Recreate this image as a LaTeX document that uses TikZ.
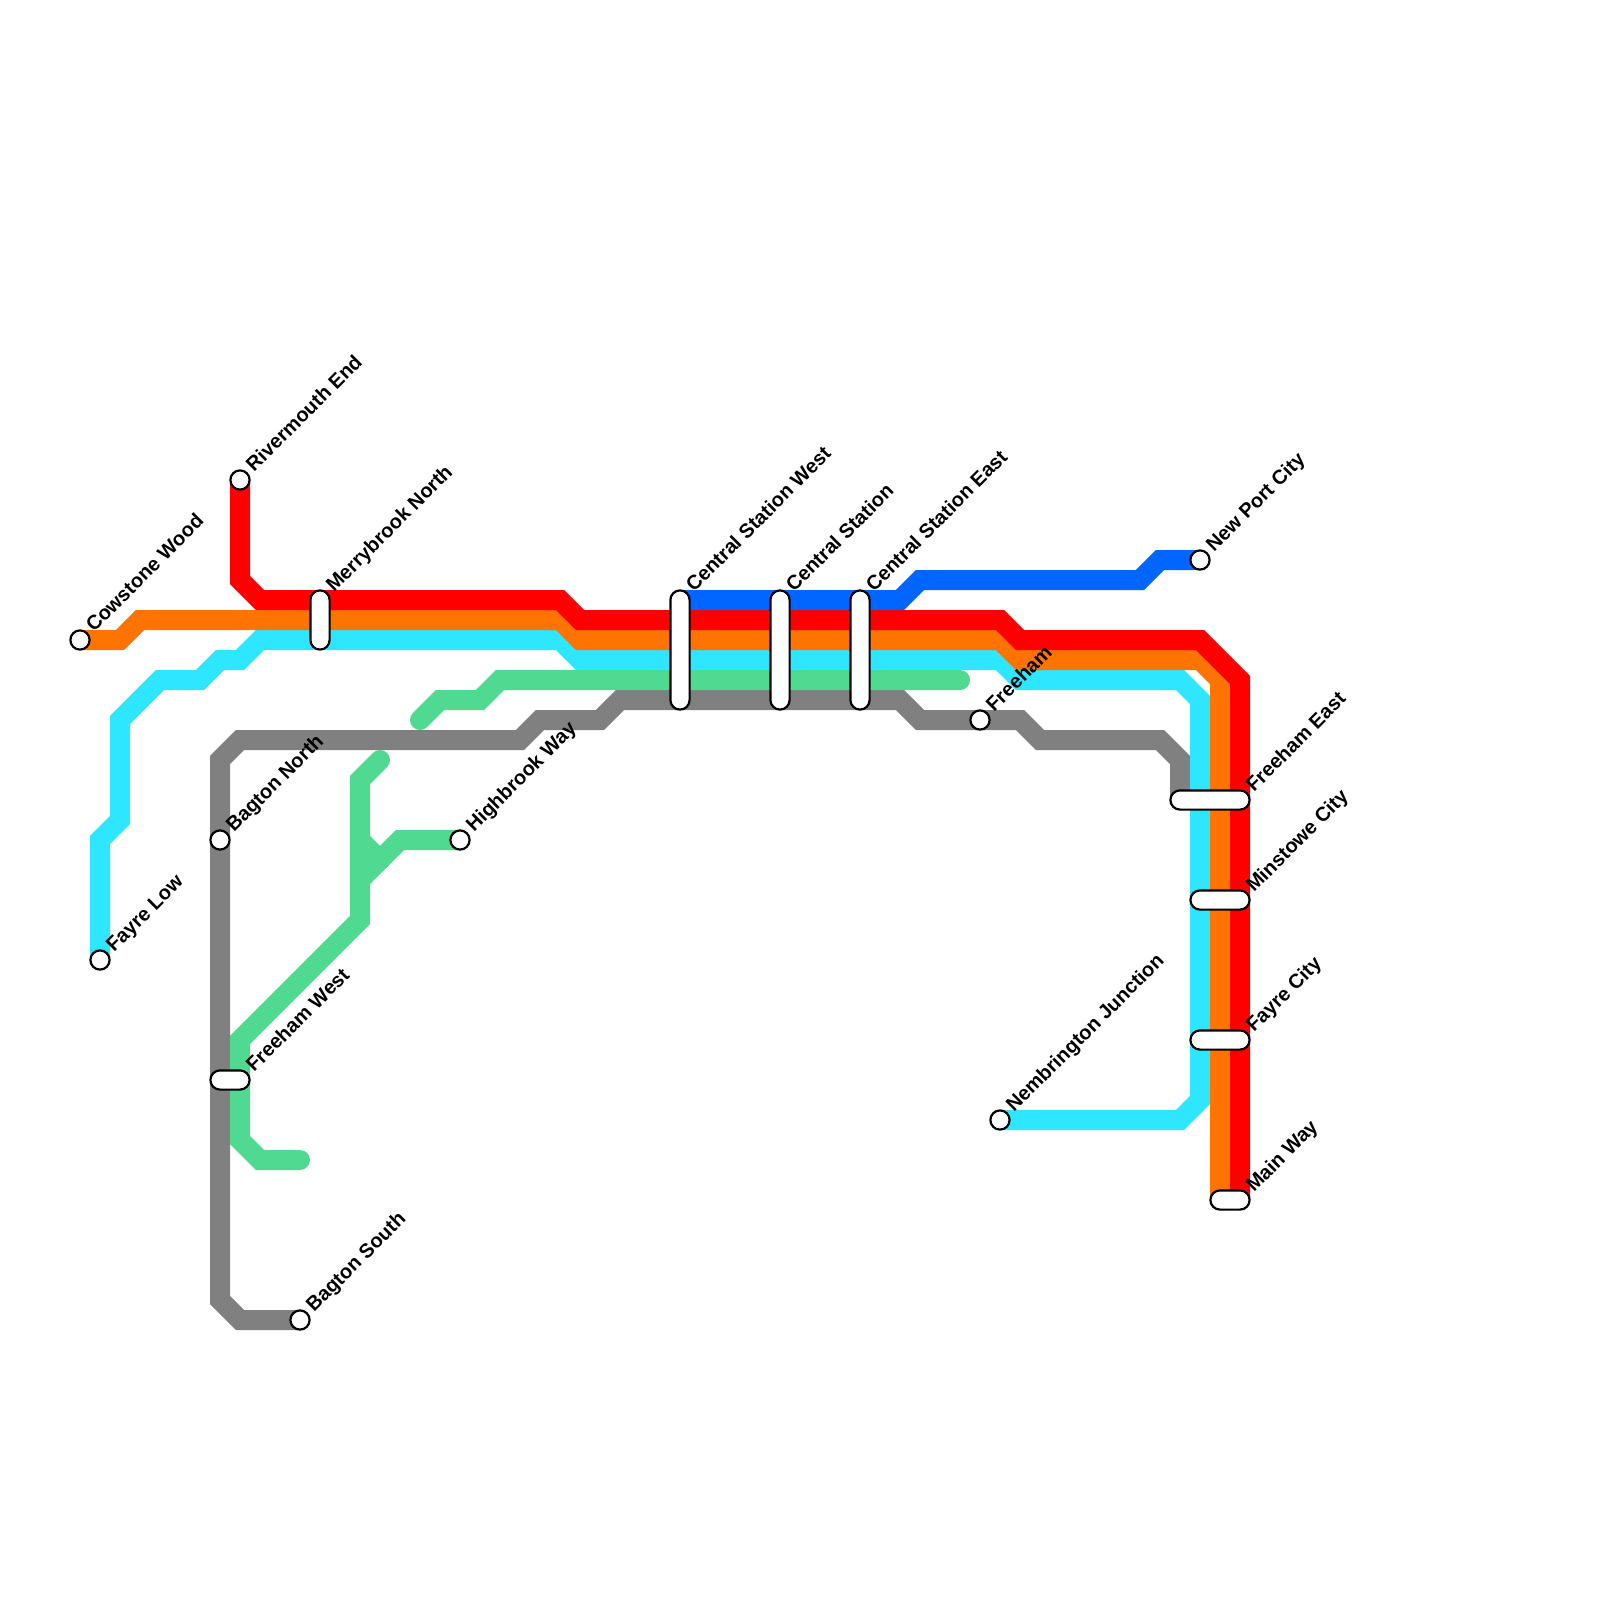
\documentclass[tikz,border=0pt]{standalone}
\usepackage{fontspec}
\setmainfont{Liberation Sans}
\usetikzlibrary{backgrounds}
\definecolor{lred}{HTML}{FF0000}
\definecolor{lorange}{HTML}{FF7300}
\definecolor{lcyan}{HTML}{2EE6FF}
\definecolor{lgreen}{HTML}{50D990}
\definecolor{lgray}{HTML}{808080}
\definecolor{lblue}{HTML}{0066FF}
\tikzset{
  metro/.style={line width=20pt,line join=miter,line cap=round},
  stopdot/.style={circle,draw=black,fill=white,line width=2.2pt,minimum size=19.2pt,inner sep=0pt},
  stopcap/.style={rectangle,rounded corners=9.6pt,draw=black,fill=white,line width=2.2pt,inner sep=0pt},
  vcap/.style={stopcap,minimum width=19.2pt,minimum height=#1},
  hcap/.style={stopcap,minimum height=19.2pt,minimum width=#1},
  stoplabel/.style={anchor=base west,rotate=45,inner sep=0pt,font=\fontsize{20}{20}\selectfont\bfseries}
}
\begin{document}
\begin{tikzpicture}[x=1pt,y=-1pt]
\useasboundingbox (0,0) rectangle (1600,1600);
% stations
\node[stopdot] (cowstone) at (80,640) {};
\node[stopdot] (rivermouth) at (240,480) {};
\node[stopdot] (fayrelow) at (100,960) {};
\node[stopdot] (bagtonN) at (220,840) {};
\node[stopdot] (highbrook) at (460,840) {};
\node[stopdot] (bagtonS) at (300,1320) {};
\node[stopdot] (freeham) at (980,720) {};
\node[stopdot] (newport) at (1200,560) {};
\node[stopdot] (nembrington) at (1000,1120) {};
\node[vcap=59.2pt] (merrybrook) at (320,620) {};
\node[vcap=119.2pt] (centralW) at (680,650) {};
\node[vcap=119.2pt] (central) at (780,650) {};
\node[vcap=119.2pt] (centralE) at (860,650) {};
\node[hcap=39.2pt] (freehamW) at (230,1080) {};
\node[hcap=79.2pt] (freehamE) at (1210,800) {};
\node[hcap=59.2pt] (minstowe) at (1220,900) {};
\node[hcap=59.2pt] (fayrecity) at (1220,1040) {};
\node[hcap=39.2pt] (mainway) at (1230,1200) {};
% free line ends
\coordinate (blueStart) at (680,600);
\coordinate (redEnd) at (1240,1200);
\coordinate (orangeEnd) at (1220,1200);
\coordinate (grayEnd) at (1180,800);
\coordinate (greenTop) at (380,760);
\coordinate (greenMid) at (360,840);
\coordinate (greenFork) at (360,880);
\coordinate (greenStub) at (380,860);
\coordinate (greenTail) at (300,1160);
\coordinate (greenHead) at (420,720);
\coordinate (greenEnd) at (960,680);
\begin{scope}[on background layer]
\draw[metro,lgray] (bagtonS.center) -- (240,1320) -- (220,1300) -- (220,760) -- (240,740) -- (520,740) -- (540,720) -- (600,720) -- (620,700) -- (900,700) -- (920,720) -- (1020,720) -- (1040,740) -- (1160,740) -- (1180,760) -- (grayEnd);
\draw[metro,lgreen] (greenHead) -- (440,700) -- (480,700) -- (500,680) -- (greenEnd);
\draw[metro,lgreen] (greenTop) -- (360,780) -- (360,920) -- (240,1040) -- (240,1140) -- (260,1160) -- (greenTail);
\draw[metro,lgreen] (highbrook.center) -- (400,840) -- (greenFork);
\draw[metro,lgreen] (greenMid) -- (greenStub);
\draw[metro,lcyan] (fayrelow.center) -- (100,840) -- (120,820) -- (120,720) -- (160,680) -- (200,680) -- (220,660) -- (240,660) -- (260,640) -- (560,640) -- (580,660) -- (1000,660) -- (1020,680) -- (1180,680) -- (1200,700) -- (1200,1100) -- (1180,1120) -- (nembrington.center);
\draw[metro,lorange] (cowstone.center) -- (120,640) -- (140,620) -- (560,620) -- (580,640) -- (1000,640) -- (1020,660) -- (1200,660) -- (1220,680) -- (orangeEnd);
\draw[metro,lred] (rivermouth.center) -- (240,580) -- (260,600) -- (560,600) -- (580,620) -- (1000,620) -- (1020,640) -- (1200,640) -- (1240,680) -- (redEnd);
\draw[metro,lblue] (blueStart) -- (900,600) -- (920,580) -- (1140,580) -- (1160,560) -- (newport.center);
\end{scope}
% labels
\node[stoplabel] (tcowstone) at (94,633) {Cowstone Wood};
\node[stoplabel] (trivermouth) at (254,473) {Rivermouth End};
\node[stoplabel] (tfayrelow) at (114,953) {Fayre Low};
\node[stoplabel] (tbagtonN) at (234,833) {Bagton North};
\node[stoplabel] (thighbrook) at (474,833) {Highbrook Way};
\node[stoplabel] (tbagtonS) at (314,1313) {Bagton South};
\node[stoplabel] (tfreeham) at (994,713) {Freeham};
\node[stoplabel] (tnewport) at (1214,553) {New Port City};
\node[stoplabel] (tnembrington) at (1014,1113) {Nembrington Junction};
\node[stoplabel] (tmerrybrook) at (334,593) {Merrybrook North};
\node[stoplabel] (tcentralW) at (694,593) {Central Station West};
\node[stoplabel] (tcentral) at (794,593) {Central Station};
\node[stoplabel] (tcentralE) at (874,593) {Central Station East};
\node[stoplabel] (tfreehamW) at (254,1073) {Freeham West};
\node[stoplabel] (tfreehamE) at (1254,793) {Freeham East};
\node[stoplabel] (tminstowe) at (1254,893) {Minstowe City};
\node[stoplabel] (tfayrecity) at (1254,1033) {Fayre City};
\node[stoplabel] (tmainway) at (1254,1193) {Main Way};
\end{tikzpicture}
\end{document}
